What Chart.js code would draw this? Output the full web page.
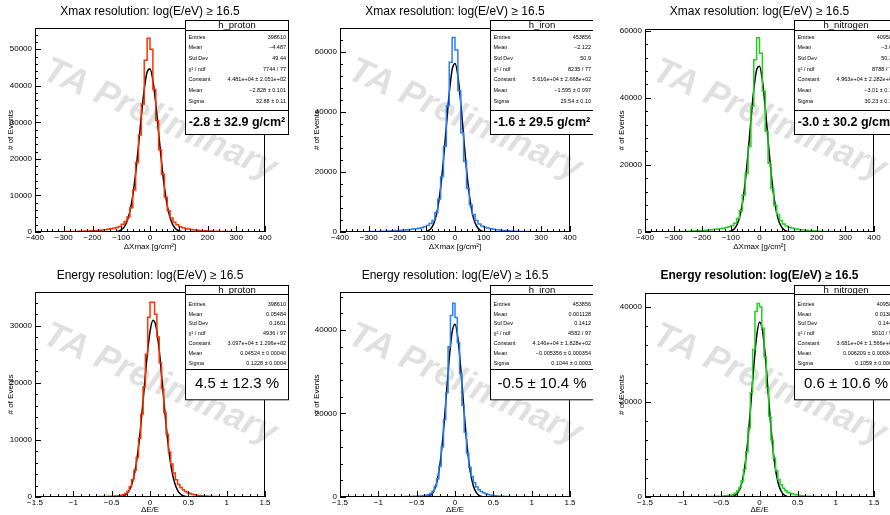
<!DOCTYPE html>
<html>
<head>
<meta charset="utf-8">
<script src="https://cdn.jsdelivr.net/npm/chart.js@4.4.1/dist/chart.umd.min.js"></script>
<style>
  html, body { margin: 0; padding: 0; background: #fff; overflow: hidden; }
  #wrap { position: relative; width: 890px; height: 515px; overflow: hidden; }
  #wrap canvas { position: absolute; }
</style>
</head>
<body>
<div id="wrap"></div>
<script>
// ---- binning ----
const xmaxMin = -400, xmaxMax = 400, xmaxBinWidth = 10;      // 80 bins
const energyMin = -1.5, energyMax = 1.5, energyBinWidth = 0.03; // 100 bins

// ---- histogram contents ----
const protonXmax = [
  30, 35, 40, 45, 50, 55, 60, 70, 80, 90,
  100, 115, 130, 150, 170, 195, 220, 250, 290, 330,
  380, 430, 490, 560, 640, 740, 860, 1000, 1200, 1500,
  2100, 2900, 4100, 6600, 11500, 19000, 26500, 35000, 47000, 53000,
  50000, 39000, 30500, 22500, 15800, 9500, 5800, 3800, 2700, 1950,
  1450, 1150, 950, 800, 680, 580, 500, 430, 370, 320,
  280, 240, 210, 180, 160, 140, 120, 105, 90, 80,
  70, 60, 52, 45, 40, 35, 30, 26, 23, 20
];
const ironXmax = [
  40, 45, 50, 55, 60, 70, 80, 90, 100, 115,
  130, 150, 170, 195, 225, 260, 300, 345, 400, 460,
  530, 600, 680, 770, 870, 980, 1100, 1250, 1450, 1750,
  2200, 2800, 3800, 6500, 11000, 18500, 28500, 42000, 56500, 64700,
  60600, 47000, 33000, 23500, 14500, 9000, 5800, 3800, 2700, 2000,
  1600, 1300, 1080, 900, 760, 640, 540, 460, 390, 330,
  280, 240, 205, 175, 150, 130, 110, 95, 82, 70,
  60, 52, 45, 40, 35, 30, 26, 23, 20, 18
];
const nitrogenXmax = [
  36, 40, 45, 50, 54, 63, 72, 81, 90, 104,
  117, 135, 153, 176, 203, 234, 270, 311, 360, 414,
  477, 540, 612, 693, 783, 882, 990, 1125, 1305, 1575,
  1900, 2600, 4000, 6300, 11000, 17500, 25500, 37500, 51300, 57900,
  53300, 42000, 30000, 20500, 13000, 8000, 5200, 3400, 2400, 1800,
  1450, 1170, 970, 810, 680, 575, 485, 415, 350, 297,
  250, 215, 185, 157, 135, 117, 99, 85, 74, 63,
  54, 47, 40, 36, 31, 27, 23, 21, 18, 16
];
const protonEnergy = [
  5, 5, 5, 6, 6, 6, 7, 7, 8, 8,
  9, 10, 11, 12, 13, 14, 16, 18, 20, 22,
  25, 28, 32, 36, 40, 45, 52, 60, 70, 80,
  92, 105, 120, 140, 165, 195, 235, 290, 400, 600,
  1000, 1800, 3000, 4700, 6900, 10300, 14500, 19300, 25000, 31500,
  34100, 34100, 32000, 28000, 23500, 19000, 14800, 11000, 7900, 5800,
  4200, 3000, 2200, 1650, 1250, 950, 750, 600, 480, 390,
  320, 265, 220, 185, 155, 130, 110, 95, 82, 70,
  60, 52, 45, 40, 35, 31, 27, 24, 21, 19,
  17, 15, 13, 12, 11, 10, 9, 8, 8, 7
];
const ironEnergy = [
  4, 4, 5, 5, 5, 6, 6, 7, 7, 8,
  9, 10, 11, 12, 14, 16, 18, 20, 23, 26,
  30, 34, 39, 45, 52, 60, 68, 78, 90, 104,
  118, 135, 155, 180, 210, 250, 300, 400, 560, 850,
  1400, 2500, 4400, 7400, 12000, 18500, 25000, 36000, 43500, 46400,
  43000, 37000, 29500, 22000, 15500, 10500, 7100, 4900, 3400, 2400,
  1750, 1300, 1000, 780, 610, 480, 380, 300, 240, 195,
  160, 132, 110, 92, 78, 66, 56, 48, 41, 35,
  30, 26, 23, 20, 18, 16, 14, 12, 11, 10,
  9, 8, 7, 7, 6, 6, 5, 5, 5, 4
];
const nitrogenEnergy = [
  4, 4, 5, 5, 5, 6, 6, 7, 7, 8,
  9, 10, 11, 12, 14, 16, 18, 20, 23, 26,
  30, 34, 39, 45, 52, 60, 68, 78, 90, 104,
  118, 135, 155, 180, 210, 250, 300, 390, 540, 800,
  1250, 2000, 3400, 5800, 9500, 14500, 22000, 31000, 39000, 40700,
  40000, 35500, 29500, 23000, 17000, 12000, 8200, 5500, 3700, 2600,
  1850, 1350, 1020, 800, 630, 500, 400, 320, 260, 210,
  170, 140, 116, 97, 82, 70, 60, 51, 44, 38,
  33, 28, 24, 21, 19, 17, 15, 13, 12, 11,
  10, 9, 8, 7, 7, 6, 6, 5, 5, 4
];

// ---- gaussian fit curves, sampled ----
const fitXmaxX = [-150, -140, -130, -120, -110, -100, -90, -80, -70, -60, -50, -40, -30, -20, -10, 0,
  10, 20, 30, 40, 50, 60, 70, 80, 90, 100, 110, 120, 130, 140, 150];
const protonXmaxFit = [2, 7, 25, 78, 221, 569, 1334, 2852, 5561, 9885, 16015, 23651, 31851, 39101, 43757, 44644,
  41526, 35212, 27222, 19183, 12323, 7219, 3854, 1876, 833, 337, 124, 42, 13, 4, 1];
const ironXmaxFit = [0, 1, 4, 18, 67, 218, 637, 1658, 3846, 7953, 14670, 24120, 35370, 46250, 53930, 56080,
  52000, 42990, 31700, 20840, 12220, 6385, 2977, 1238, 459, 152, 45, 12, 3, 1, 0];
const nitrogenXmaxFit = [0, 2, 7, 28, 94, 289, 790, 1938, 4259, 8397, 14830, 23480, 33320, 42380, 48320, 49380,
  45240, 37150, 27340, 18040, 10670, 5653, 2685, 1144, 437, 149, 46, 13, 3, 1, 0];

const fitEnergyX = [-0.6, -0.56, -0.52, -0.48, -0.44, -0.4, -0.36, -0.32, -0.28, -0.24, -0.2, -0.16, -0.12, -0.08, -0.04, 0,
  0.04, 0.08, 0.12, 0.16, 0.2, 0.24, 0.28, 0.32, 0.36, 0.4, 0.44, 0.48, 0.52, 0.56, 0.6];
const protonEnergyFit = [0, 0, 1, 3, 13, 43, 134, 371, 928, 2086, 4215, 7662, 12520, 18410, 24340, 28940,
  30940, 29750, 25730, 20010, 14000, 8805, 4980, 2534, 1160, 477, 177, 59, 18, 5, 1];
const ironEnergyFit = [0, 0, 0, 1, 7, 33, 129, 442, 1303, 3317, 7293, 13840, 22690, 32110, 39240, 41400,
  37720, 29680, 20160, 11820, 5991, 2619, 990, 323, 91, 22, 5, 1, 0, 0, 0];
const nitrogenEnergyFit = [0, 0, 0, 1, 5, 24, 93, 320, 954, 2467, 5529, 10740, 18100, 26430, 33470, 36750,
  34980, 28870, 20670, 12830, 6897, 3219, 1302, 456, 139, 36, 8, 2, 0, 0, 0];

// ---- tick labels ----
const xmaxTicks = [-400, -300, -200, -100, 0, 100, 200, 300, 400];
const energyTicks = [-1.5, -1, -0.5, 0, 0.5, 1, 1.5];
const protonXmaxYTicks = [0, 10000, 20000, 30000, 40000, 50000];
const ironXmaxYTicks = [0, 20000, 40000, 60000];
const nitrogenXmaxYTicks = [0, 20000, 40000, 60000];
const protonEnergyYTicks = [0, 10000, 20000, 30000];
const ironEnergyYTicks = [0, 20000, 40000];
const nitrogenEnergyYTicks = [0, 20000, 40000];

// ---- stat boxes ----
const M = '\u2212', PM = ' \u00b1 ', CHI = '\u03c7\u00b2 / ndf';
const protonXmaxStats = [['Entries', '398610'], ['Mean', M + '4.487'], ['Std Dev', '49.44'], [CHI, '7744 / 77'],
  ['Constant', '4.481e+04' + PM + '2.051e+02'], ['Mean', M + '2.828' + PM + '0.101'], ['Sigma', '32.88' + PM + '0.11']];
const ironXmaxStats = [['Entries', '453856'], ['Mean', M + '2.122'], ['Std Dev', '50.9'], [CHI, '8235 / 77'],
  ['Constant', '5.616e+04' + PM + '2.668e+02'], ['Mean', M + '1.595' + PM + '0.097'], ['Sigma', '29.54' + PM + '0.10']];
const nitrogenXmaxStats = [['Entries', '409588'], ['Mean', M + '3.61'], ['Std Dev', '50.34'], [CHI, '8788 / 77'],
  ['Constant', '4.963e+04' + PM + '2.282e+02'], ['Mean', M + '3.01' + PM + '0.10'], ['Sigma', '30.23' + PM + '0.10']];
const protonEnergyStats = [['Entries', '398610'], ['Mean', '0.05484'], ['Std Dev', '0.1601'], [CHI, '4936 / 97'],
  ['Constant', '3.097e+04' + PM + '1.296e+02'], ['Mean', '0.04524' + PM + '0.00040'], ['Sigma', '0.1228' + PM + '0.0004']];
const ironEnergyStats = [['Entries', '453856'], ['Mean', '0.001128'], ['Std Dev', '0.1412'], [CHI, '4582 / 97'],
  ['Constant', '4.146e+04' + PM + '1.828e+02'], ['Mean', M + '0.005356' + PM + '0.000354'], ['Sigma', '0.1044' + PM + '0.0003']];
const nitrogenEnergyStats = [['Entries', '409588'], ['Mean', '0.01382'], ['Std Dev', '0.1445'], [CHI, '5010 / 97'],
  ['Constant', '3.681e+04' + PM + '1.566e+02'], ['Mean', '0.006209' + PM + '0.000346'], ['Sigma', '0.1059' + PM + '0.0003']];

const xmaxTitle = 'Xmax resolution: log(E/eV) \u2265 16.5';
const energyTitle = 'Energy resolution: log(E/eV) \u2265 16.5';

// ---- layout (pixels) ----
const FONT = "'Liberation Sans', Arial, sans-serif";
Chart.defaults.font.family = FONT;
Chart.defaults.color = '#000';

const cols = [
  {left: 0, width: 296, axisW: 35, padR: 31, yTitlePad: 6.2, extraTop: 0},
  {left: 296, width: 297, axisW: 44, padR: 23, yTitlePad: 15.9, extraTop: 0},
  {left: 593, width: 297, axisW: 52, padR: 16, yTitlePad: 23.9, extraTop: 1}
];
const rows = {
  xmax: {top: 0, height: 257, axisH: 25, titleTop: 4.5, titleBottom: 9.1, xTitlePad: 5.2,
    box: {top: 20, height: 114, header: 9, rowStart: 16.7, rowStep: 10.67, divider: 89.3, big: 'bold 12.5px'}},
  energy: {top: 257, height: 258, axisH: 18, titleTop: 11.5, titleBottom: 9.1, xTitlePad: 0,
    box: {top: 27.7, height: 114.3, header: 8.6, rowStart: 18.6, rowStep: 9.9, divider: 83, big: '15px'}}
};

const fmt = v => String(v).replace('-', '\u2212');

// ROOT-like frame, inward ticks, watermark and stat box
const rootPad = {
  id: 'rootPad',
  beforeDatasetsDraw(chart, args, o) {
    const {ctx, chartArea: a} = chart;
    ctx.save();
    ctx.translate((a.left + a.right) / 2 + 10, (a.top + a.bottom) / 2 - 10);
    ctx.rotate(24 * Math.PI / 180);
    ctx.font = 'italic bold 36px ' + FONT;
    ctx.fillStyle = 'rgba(0,0,0,0.12)';
    ctx.textAlign = 'center';
    ctx.textBaseline = 'middle';
    ctx.fillText('TA Preliminary', 0, 0);
    ctx.restore();
  },
  afterDatasetsDraw(chart, args, o) {
    const {ctx, chartArea: a, scales} = chart;
    ctx.save();
    ctx.strokeStyle = '#000';
    ctx.lineWidth = 1;
    ctx.strokeRect(Math.round(a.left) + 0.5, Math.round(a.top) + 0.5, Math.round(a.width) - 1, Math.round(a.height) - 1);
    ctx.beginPath();
    const xs = scales.x, ys = scales.y;
    for (let v = xs.min; v <= xs.max + 1e-9; v += o.xMinor) {
      const major = xs.ticks.some(t => Math.abs(t.value - v) < 1e-6);
      const px = Math.round(xs.getPixelForValue(v)) + 0.5;
      ctx.moveTo(px, a.bottom);
      ctx.lineTo(px, a.bottom - (major ? 6 : 3));
    }
    for (let v = ys.min; v <= ys.max; v += o.yMinor) {
      const major = ys.ticks.some(t => Math.abs(t.value - v) < 1e-6);
      const py = Math.round(ys.getPixelForValue(v)) + 0.5;
      ctx.moveTo(a.left, py);
      ctx.lineTo(a.left + (major ? 6 : 3), py);
    }
    ctx.stroke();
    ctx.restore();
  },
  afterDraw(chart, args, o) {
    const {ctx, chartArea: a} = chart;
    const b = o.box;
    const L = Math.round(a.right - 80) + 0.5, W = 103, T = Math.round(b.top) + 0.5, H = b.height;
    ctx.save();
    ctx.fillStyle = '#fff';
    ctx.fillRect(L, T, W, H);
    ctx.strokeStyle = '#000';
    ctx.lineWidth = 1;
    ctx.strokeRect(L, T, W, H);
    ctx.beginPath();
    ctx.moveTo(L, Math.round(T + b.header) + 0.5); ctx.lineTo(L + W, Math.round(T + b.header) + 0.5);
    ctx.moveTo(L, Math.round(T + b.divider) + 0.5); ctx.lineTo(L + W, Math.round(T + b.divider) + 0.5);
    ctx.stroke();
    ctx.fillStyle = '#000';
    ctx.textBaseline = 'middle';
    ctx.textAlign = 'center';
    ctx.font = '9.5px ' + FONT;
    ctx.fillText(o.name, L + W / 2, T + b.header / 2 + 0.5);
    ctx.font = '5.5px ' + FONT;
    o.stats.forEach((s, i) => {
      const y = T + b.rowStart + i * b.rowStep;
      ctx.textAlign = 'left';
      ctx.fillText(s[0], L + 3, y);
      ctx.textAlign = 'right';
      ctx.fillText(s[1], L + W - 2.5, y);
    });
    ctx.textAlign = 'center';
    ctx.font = b.big + ' ' + FONT;
    ctx.fillText(o.big, L + W / 2, T + (b.divider + b.height) / 2);
    ctx.restore();
  }
};

function makePanel(p) {
  const col = cols[p.col], row = rows[p.row];
  const cv = document.createElement('canvas');
  cv.width = col.width; cv.height = row.height;
  cv.style.left = col.left + 'px'; cv.style.top = row.top + 'px';
  document.getElementById('wrap').appendChild(cv);

  const n = p.counts.length;
  const hist = p.counts.map((c, k) => ({x: p.binMin + k * p.binWidth, y: c}));
  hist.push({x: p.binMax, y: p.counts[n - 1]});
  const fit = p.fitX.map((x, i) => ({x: x, y: p.fitY[i]}));

  new Chart(cv, {
    type: 'line',
    data: {
      datasets: [
        {data: hist, stepped: true, borderColor: p.color, borderWidth: 1.5, pointRadius: 0, fill: false},
        {data: fit, borderColor: '#000', borderWidth: 1.5, pointRadius: 0, fill: false, cubicInterpolationMode: 'monotone'}
      ]
    },
    options: {
      responsive: false,
      animation: false,
      devicePixelRatio: 1,
      events: [],
      layout: {padding: {left: 0, right: col.padR, top: 0, bottom: 0}},
      plugins: {
        legend: {display: false},
        tooltip: {enabled: false},
        title: {
          display: true, text: p.title, fullSize: false, color: '#000',
          font: {size: 12, weight: p.boldTitle ? 'bold' : 'normal'},
          padding: {top: row.titleTop, bottom: row.titleBottom + col.extraTop}
        },
        rootPad: {name: p.name, stats: p.stats, big: p.big, box: row.box, xMinor: p.xMinor, yMinor: p.yMinor}
      },
      scales: {
        x: {
          type: 'linear', min: p.binMin, max: p.binMax,
          afterBuildTicks: s => { s.ticks = p.xTicks.map(v => ({value: v})); },
          afterFit: s => { s.height = row.axisH; },
          grid: {display: false, drawTicks: false},
          border: {display: false},
          ticks: {font: {size: 8}, color: '#000', padding: 1, maxRotation: 0, autoSkip: false, callback: fmt},
          title: {display: true, text: p.xTitle, color: '#000', font: {size: 8}, padding: {top: 0, bottom: row.xTitlePad}}
        },
        y: {
          type: 'linear', min: 0, max: p.yMax,
          afterBuildTicks: s => { s.ticks = p.yTicks.map(v => ({value: v})); },
          afterFit: s => { s.width = col.axisW; },
          grid: {display: false, drawTicks: false},
          border: {display: false},
          ticks: {font: {size: 8}, color: '#000', padding: 3, autoSkip: false, callback: fmt},
          title: {display: true, text: '# of Events', color: '#000', font: {size: 8}, padding: {top: col.yTitlePad, bottom: 0}}
        }
      }
    },
    plugins: [rootPad]
  });
}

const red = '#ff3300', blue = '#2a7fff', green = '#1ed21e';
const xmaxBins = {binMin: xmaxMin, binMax: xmaxMax, binWidth: xmaxBinWidth, xTicks: xmaxTicks, xMinor: 20,
  fitX: fitXmaxX, xTitle: '\u0394Xmax [g/cm\u00b2]', title: xmaxTitle, row: 'xmax'};
const energyBins = {binMin: energyMin, binMax: energyMax, binWidth: energyBinWidth, xTicks: energyTicks, xMinor: 0.1,
  fitX: fitEnergyX, xTitle: '\u0394E/E', title: energyTitle, row: 'energy'};

makePanel(Object.assign({}, xmaxBins, {col: 0, counts: protonXmax, fitY: protonXmaxFit, color: red, yMax: 55800,
  yTicks: protonXmaxYTicks, yMinor: 2000, name: 'h_proton', stats: protonXmaxStats, big: '-2.8 \u00b1 32.9 g/cm\u00b2'}));
makePanel(Object.assign({}, xmaxBins, {col: 1, counts: ironXmax, fitY: ironXmaxFit, color: blue, yMax: 67900,
  yTicks: ironXmaxYTicks, yMinor: 4000, name: 'h_iron', stats: ironXmaxStats, big: '-1.6 \u00b1 29.5 g/cm\u00b2'}));
makePanel(Object.assign({}, xmaxBins, {col: 2, counts: nitrogenXmax, fitY: nitrogenXmaxFit, color: green, yMax: 60500,
  yTicks: nitrogenXmaxYTicks, yMinor: 4000, name: 'h_nitrogen', stats: nitrogenXmaxStats, big: '-3.0 \u00b1 30.2 g/cm\u00b2'}));
makePanel(Object.assign({}, energyBins, {col: 0, counts: protonEnergy, fitY: protonEnergyFit, color: red, yMax: 35900,
  yTicks: protonEnergyYTicks, yMinor: 2000, name: 'h_proton', stats: protonEnergyStats, big: '4.5 \u00b1 12.3 %'}));
makePanel(Object.assign({}, energyBins, {col: 1, counts: ironEnergy, fitY: ironEnergyFit, color: blue, yMax: 49100,
  yTicks: ironEnergyYTicks, yMinor: 4000, name: 'h_iron', stats: ironEnergyStats, big: '-0.5 \u00b1 10.4 %'}));
makePanel(Object.assign({}, energyBins, {col: 2, counts: nitrogenEnergy, fitY: nitrogenEnergyFit, color: green, yMax: 42900,
  yTicks: nitrogenEnergyYTicks, yMinor: 4000, name: 'h_nitrogen', stats: nitrogenEnergyStats, big: '0.6 \u00b1 10.6 %', boldTitle: true}));
</script>
</body>
</html>
